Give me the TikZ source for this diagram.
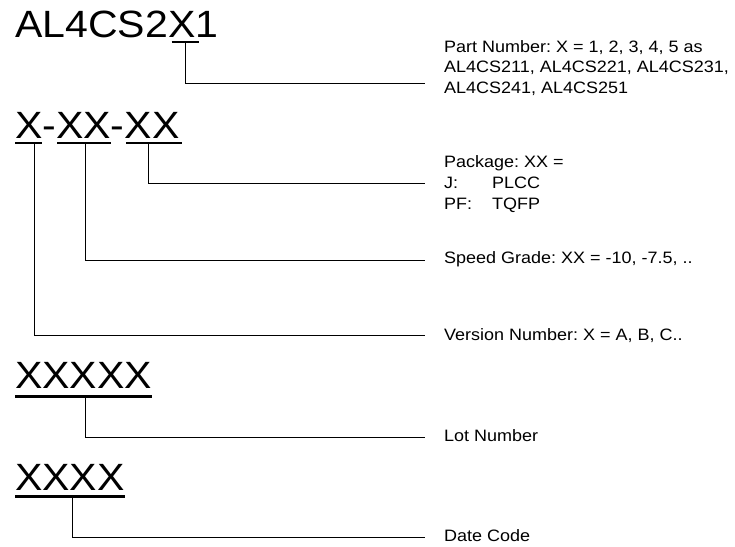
\documentclass[tikz,border=0pt]{standalone}
\usepackage{fontspec}
\setmainfont{Liberation Sans}
\usepackage{graphicx}
\frenchspacing
\newcommand\bigsc[1]{\scalebox{1.08}[1]{#1}}
\newcommand\smsc[1]{\scalebox{1.09}[1]{#1}}
\begin{document}
\frenchspacing
\begin{tikzpicture}[x=1pt,y=-1pt,
  bigtxt/.style={anchor=base west, inner sep=0pt, font=\fontsize{38}{40}\selectfont},
  lbl/.style={anchor=base west, inner sep=0pt, font=\fontsize{16.5}{20.5}\selectfont},
  uline/.style={line width=2.6pt},
  conn/.style={line width=0.9pt}]
\useasboundingbox (0,0) rectangle (735,546);

% big codes
\node[bigtxt] (pn)   at (15,37)    {\bigsc{AL4CS2X1}};
\node[bigtxt] (ver)  at (15,138.3) {\bigsc{X-XX-XX}};
\node[bigtxt] (lot)  at (15,388.3) {\bigsc{XXXXX}};
\node[bigtxt] (date) at (15,490)   {\bigsc{XXXX}};

% underlines
\draw[uline] (171.7,42) -- (199,42);
\draw[uline] (15,143) -- (42,143);
\draw[uline] (57,143) -- (111,143);
\draw[uline] (126,143) -- (182,143);
\draw[uline] (15,396.7) -- (152,396.7);
\draw[uline] (15,496.7) -- (125,496.7);

% tap points
\coordinate (tpn) at (185,43);
\coordinate (tver) at (34.5,144);
\coordinate (tspd) at (85,144);
\coordinate (tpkg) at (148,144);
\coordinate (tlot) at (85,398);
\coordinate (tdate) at (72,498);

% line ends
\coordinate (epn) at (425,83);
\coordinate (epkg) at (425,183);
\coordinate (espd) at (425,260);
\coordinate (ever) at (425,335.3);
\coordinate (elot) at (425,437);
\coordinate (edate) at (425,537);

% labels
\node[lbl] (lpn) at (444,52) {\smsc{\begin{tabular}[t]{@{}l@{}}Part Number: X = 1, 2, 3, 4, 5 as\\AL4CS211, AL4CS221, AL4CS231,\\AL4CS241, AL4CS251\end{tabular}}};
\node[lbl, font=\fontsize{16.5}{21}\selectfont] (lpkg) at (444,167) {\smsc{\begin{tabular}[t]{@{}l@{}}Package: XX =\\\makebox[44pt][l]{J:}PLCC\\\makebox[44pt][l]{PF:}TQFP\end{tabular}}};
\node[lbl] (lspd) at (444,263.5) {\smsc{Speed Grade: XX = -10, -7.5, ..}};
\node[lbl] (lver) at (444,340) {\smsc{Version Number: X = A, B, C..}};
\node[lbl] (llot) at (444,441.5) {\smsc{Lot Number}};
\node[lbl] (ldate) at (444,541.5) {\smsc{Date Code}};

% connectors
\draw[conn] (tpn) |- (epn);
\draw[conn] (tpkg) |- (epkg);
\draw[conn] (tspd) |- (espd);
\draw[conn] (tver) |- (ever);
\draw[conn] (tlot) |- (elot);
\draw[conn] (tdate) |- (edate);
\end{tikzpicture}
\end{document}
